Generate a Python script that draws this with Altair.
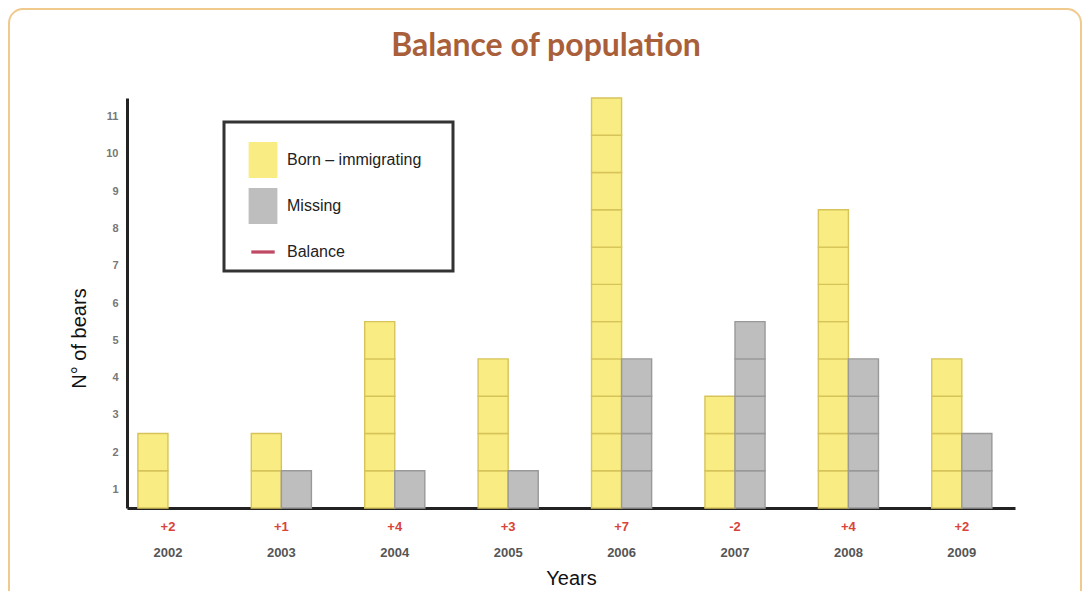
import altair as alt
import pandas as pd

# ---- data ----
years = ["2002", "2003", "2004", "2005", "2006", "2007", "2008", "2009"]
born = [2, 2, 5, 4, 11, 3, 8, 4]
missing = [0, 1, 1, 1, 4, 5, 4, 2]
series_names = ["Born – immigrating", "Missing"]
legend_names = ["Born – immigrating", "Missing", "Balance"]

YELLOW = "#F8EC82"
YELLOW_LINE = "#D6C45A"
GRAY = "#BEBEBE"
GRAY_LINE = "#999999"
RED = "#D8443A"
LEG_RED = "#C04A63"

# unit blocks (each bar drawn as stacked cells of one bear)
rows = []
for yr, b, m in zip(years, born, missing):
    for name, n in ((series_names[0], b), (series_names[1], m)):
        for k in range(n):
            rows.append({"year": yr, "series": name, "y0": k, "y1": k + 1})
blocks = pd.DataFrame(rows)

balance = pd.DataFrame({
    "year": years,
    "label": [f"{b - m:+d}" for b, m in zip(born, missing)],
})
legend_df = pd.DataFrame({"series": legend_names})
one = alt.Data(values=[{"a": 1}])

x_scale = alt.Scale(domain=years, paddingInner=0.47, paddingOuter=0.15, align=0.32)

frame = alt.Chart(one).mark_rect(
    fillOpacity=0, stroke="#F0C98C", strokeWidth=2, cornerRadius=14
).encode(x=alt.value(-118), x2=alt.value(954), y=alt.value(-89), y2=alt.value(520))

bars = alt.Chart(blocks).mark_bar(strokeWidth=1.4).encode(
    x=alt.X("year:N", scale=x_scale, sort=years,
            axis=alt.Axis(ticks=False, labelAngle=0, labelPadding=38, labelFontSize=13,
                          labelColor="#555", labelFontWeight="bold",
                          domainColor="#222", domainWidth=3,
                          title="Years", titleFontSize=20, titleFontWeight="normal",
                          titleColor="#111", titlePadding=9)),
    xOffset=alt.XOffset("series:N", scale=alt.Scale(domain=series_names)),
    y=alt.Y("y0:Q", scale=alt.Scale(domain=[0, 11], nice=False),
            axis=alt.Axis(values=[k + 0.5 for k in range(11)],
                          labelExpr="format(datum.value + 0.5, 'd')",
                          ticks=False, grid=False, domainColor="#222", domainWidth=3,
                          labelColor="#777", labelFontSize=11, labelFontWeight="bold",
                          labelPadding=9,
                          title="N° of bears", titleFontSize=20, titleFontWeight="normal",
                          titleColor="#111", titlePadding=16, titleY=240)),
    y2="y1:Q",
    fill=alt.Fill("series:N", scale=alt.Scale(domain=series_names, range=[YELLOW, GRAY]), legend=None),
    stroke=alt.Stroke("series:N", scale=alt.Scale(domain=series_names, range=[YELLOW_LINE, GRAY_LINE]), legend=None),
)

rect_path = "M-0.8,-1H0.8V1H-0.8Z"
line_path = "M-0.65,-0.09H0.65V0.09H-0.65Z"
leg_params = dict(orient="none", legendX=118, legendY=44, title=None, padding=0,
                  symbolSize=1296, rowPadding=10, labelOffset=6, labelFontSize=16,
                  labelColor="#222", labelFont="Liberation Sans", symbolStrokeWidth=0,
                  symbolOpacity=1)
# legend carrier: points tucked under the (opaque) legend box
legpts = alt.Chart(legend_df).mark_point(filled=True, size=10).encode(
    x=alt.value(310), y=alt.value(160),
    color=alt.Color("series:N", scale=alt.Scale(domain=legend_names, range=[YELLOW, GRAY, LEG_RED]),
                    legend=alt.Legend(**leg_params)),
    shape=alt.Shape("series:N", scale=alt.Scale(domain=legend_names, range=[rect_path, rect_path, line_path]),
                    legend=alt.Legend(**leg_params)),
)

legbox = alt.Chart(one).mark_rect(fill="white", stroke="#333", strokeWidth=3).encode(
    x=alt.value(97), x2=alt.value(326), y=alt.value(24), y2=alt.value(173)
)

txt = alt.Chart(balance).mark_text(fontSize=13, fontWeight="bold", color=RED, baseline="middle").encode(
    x=alt.X("year:N", scale=x_scale, sort=years),
    y=alt.value(429),
    text="label:N",
)

chart = alt.layer(frame, bars, legpts, legbox, txt).properties(
    width=888, height=410,
    autosize="none",
    padding={"left": 119, "top": 90, "right": 67, "bottom": 83},
    title=alt.TitleParams("Balance of population", font="Lato", fontSize=32, fontWeight="bold",
                          color="#A9603A", anchor="middle", frame="group", dx=-25, offset=0, dy=80,
                          baseline="alphabetic"),
).configure(font="Liberation Sans").configure_view(strokeWidth=0)

chart.save("out.html", embed_options={"renderer": "svg", "actions": False})
